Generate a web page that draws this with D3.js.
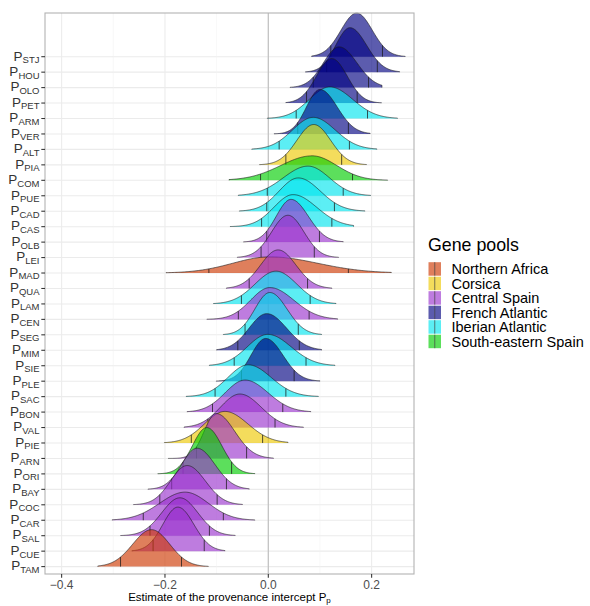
<!DOCTYPE html>
<html><head><meta charset="utf-8">
<script src="https://cdn.jsdelivr.net/npm/d3@7"></script>
<style>
body{margin:0;background:#fff;}
text{font-family:"Liberation Sans",Arial,Helvetica,sans-serif;}
</style>
</head><body>
<svg id="chart" width="590" height="606"></svg>
<script>
// ---------------- data ----------------
const provenances = ["STJ","HOU","OLO","PET","ARM","VER","ALT","PIA","COM","PUE","CAD","CAS","OLB","LEI","MAD","QUA","LAM","CEN","SEG","MIM","SIE","PLE","SAC","BON","VAL","PIE","ARN","ORI","BAY","COC","CAR","SAL","CUE","TAM"];
const genePool = ["French Atlantic","French Atlantic","French Atlantic","French Atlantic","Iberian Atlantic","French Atlantic","Iberian Atlantic","Corsica","South-eastern Spain","Iberian Atlantic","Iberian Atlantic","Iberian Atlantic","Central Spain","Central Spain","Northern Africa","Central Spain","Iberian Atlantic","Central Spain","Iberian Atlantic","French Atlantic","Iberian Atlantic","French Atlantic","Iberian Atlantic","Central Spain","Central Spain","Corsica","Central Spain","South-eastern Spain","Central Spain","Central Spain","Central Spain","Central Spain","Central Spain","Northern Africa"];
// posterior mode, 5% and 95% quantiles, and sample range per provenance
const modes = [0.171,0.158,0.137,0.123,0.119,0.100,0.087,0.088,0.085,0.077,0.058,0.048,0.044,0.038,0.003,0.019,0.015,0.003,0.003,-0.003,-0.001,-0.005,-0.039,-0.045,-0.055,-0.084,-0.101,-0.119,-0.138,-0.157,-0.161,-0.171,-0.175,-0.226];
const q05 = [0.121,0.113,0.087,0.074,0.054,0.057,0.021,0.034,-0.015,-0.002,-0.003,-0.013,-0.003,-0.014,-0.115,-0.037,-0.052,-0.058,-0.045,-0.059,-0.066,-0.052,-0.103,-0.108,-0.117,-0.149,-0.139,-0.165,-0.187,-0.210,-0.242,-0.229,-0.223,-0.286];
const q95 = [0.221,0.211,0.194,0.172,0.192,0.155,0.157,0.142,0.163,0.145,0.128,0.123,0.099,0.089,0.155,0.076,0.081,0.079,0.058,0.060,0.073,0.050,0.034,0.028,0.013,-0.011,-0.042,-0.071,-0.081,-0.099,-0.087,-0.114,-0.124,-0.168];
const minVals = [0.084,0.072,0.042,0.034,-0.002,0.011,-0.032,-0.017,-0.076,-0.058,-0.056,-0.074,-0.048,-0.060,-0.198,-0.081,-0.106,-0.119,-0.087,-0.100,-0.114,-0.101,-0.159,-0.157,-0.163,-0.201,-0.194,-0.214,-0.233,-0.261,-0.302,-0.286,-0.264,-0.330];
const maxVals = [0.265,0.254,0.220,0.219,0.250,0.197,0.210,0.190,0.231,0.198,0.187,0.165,0.145,0.136,0.238,0.123,0.131,0.134,0.103,0.103,0.129,0.100,0.097,0.082,0.068,0.038,0.010,-0.026,-0.037,-0.050,-0.026,-0.064,-0.084,-0.116];

const poolNames = ["Northern Africa","Corsica","Central Spain","French Atlantic","Iberian Atlantic","South-eastern Spain"];
const poolColors = ["#CD3700","#EEC900","#9A32CD","#000080","#00E5EE","#00CD00"];
const xTicks = [-0.4,-0.2,0.0,0.2];
const xMinorTicks = [-0.3,-0.1,0.1];
const xDomain = [-0.4322, 0.282];

// ---------------- layout ----------------
const svg = d3.select("#chart");
const P = {left:45, right:414, top:13, bottom:574};
const x = d3.scaleLinear().domain(xDomain).range([P.left, P.right]);
const y = d3.scalePoint().domain(provenances).range([56.7, 566.6]);
const step = y.step();
const color = d3.scaleOrdinal().domain(poolNames).range(poolColors);
const fillAlpha = 0.64;
const ridgeScale = 3;

// grid
const g = svg.append("g");
g.selectAll(".hg").data(provenances).enter().append("line")
  .attr("x1",P.left).attr("x2",P.right).attr("y1",d=>y(d)).attr("y2",d=>y(d))
  .attr("stroke","#EBEBEB").attr("stroke-width",1.07);
g.selectAll(".vmin").data(xMinorTicks).enter().append("line")
  .attr("x1",d=>x(d)).attr("x2",d=>x(d)).attr("y1",P.top).attr("y2",P.bottom)
  .attr("stroke","#F2F2F2").attr("stroke-width",0.55);
g.selectAll(".vmaj").data(xTicks).enter().append("line")
  .attr("x1",d=>x(d)).attr("x2",d=>x(d)).attr("y1",P.top).attr("y2",P.bottom)
  .attr("stroke","#EBEBEB").attr("stroke-width",1.07);
// reference line at zero
g.append("line").attr("x1",x(0)).attr("x2",x(0)).attr("y1",P.top).attr("y2",P.bottom)
  .attr("stroke","#BDBDBD").attr("stroke-width",1.1);

// ---------------- densities ----------------
const z = 1.6449;
function makeDens(i){
  const m = modes[i], sL = (m - q05[i]) / z, sR = (q95[i] - m) / z;
  const A = 2 / (Math.sqrt(2*Math.PI) * (sL + sR));
  return v => { const s = v < m ? sL : sR; return A * Math.exp(-0.5*((v-m)/s)**2); };
}
const dens = provenances.map((p,i)=>makeDens(i));
const peak = provenances.map((p,i)=>dens[i](modes[i]));
const maxPeak = d3.max(peak);
const hScale = ridgeScale * step / maxPeak;

const ridges = svg.append("g");
provenances.forEach((p,i)=>{
  const base = y(p);
  const n = 160;
  const pts = d3.range(n+1).map(k=>{
    const v = minVals[i] + (maxVals[i]-minVals[i])*k/n;
    return [v, dens[i](v)];
  });
  const area = d3.area().x(d=>x(d[0])).y0(base).y1(d=>base - d[1]*hScale).curve(d3.curveLinear);
  const line = d3.line().x(d=>x(d[0])).y(d=>base - d[1]*hScale);
  const gr = ridges.append("g");
  gr.append("path").attr("d", area(pts))
    .attr("fill", color(genePool[i])).attr("fill-opacity", fillAlpha).attr("stroke","none");
  [q05[i], q95[i]].forEach(q=>{
    gr.append("line").attr("x1",x(q)).attr("x2",x(q)).attr("y1",base)
      .attr("y2", base - dens[i](q)*hScale)
      .attr("stroke","#1a1a1a").attr("stroke-width",0.75);
  });
  gr.append("path").attr("d", line([[minVals[i],0]].concat(pts).concat([[maxVals[i],0]])))
    .attr("fill","none").attr("stroke","#1a1a1a").attr("stroke-width",0.6);
});

// panel border
svg.append("rect").attr("x",P.left).attr("y",P.top).attr("width",P.right-P.left).attr("height",P.bottom-P.top)
  .attr("fill","none").attr("stroke","#B3B3B3").attr("stroke-width",1.1);

// ---------------- axes ----------------
const ax = svg.append("g");
ax.selectAll(".yt").data(provenances).enter().append("line")
  .attr("x1",P.left-3.7).attr("x2",P.left).attr("y1",d=>y(d)).attr("y2",d=>y(d))
  .attr("stroke","#333").attr("stroke-width",1.07);
const yl = ax.selectAll(".yl").data(provenances).enter().append("text")
  .attr("x",P.left-5.5).attr("y",d=>y(d)+3.8).attr("text-anchor","end")
  .attr("fill","#333").attr("font-size","13.5px");
yl.append("tspan").text("P");
yl.append("tspan").attr("dy",2.6).attr("font-size","9.5px").text(d=>d);

ax.selectAll(".xt").data(xTicks).enter().append("line")
  .attr("x1",d=>x(d)).attr("x2",d=>x(d)).attr("y1",P.bottom).attr("y2",P.bottom+3.7)
  .attr("stroke","#333").attr("stroke-width",1.07);
ax.selectAll(".xl").data(xTicks).enter().append("text")
  .attr("x",d=>x(d)).attr("y",P.bottom+15).attr("text-anchor","middle")
  .attr("fill","#4D4D4D").attr("font-size","12px")
  .text(d=>d3.format(".1f")(d));
const xt = ax.append("text").attr("x",(P.left+P.right)/2).attr("y",601)
  .attr("text-anchor","middle").attr("fill","#000").attr("font-size","11.5px");
xt.append("tspan").text("Estimate of the provenance intercept P");
xt.append("tspan").attr("dy",2).attr("font-size","8px").text("p");

// ---------------- legend ----------------
const lg = svg.append("g").attr("transform","translate(428,0)");
lg.append("text").attr("x",0).attr("y",251).attr("font-size","17.8px").attr("fill","#000").text("Gene pools");
const keyH = 14.5, keyW = 13.5, key0 = 261.7;
poolNames.forEach((nm,j)=>{
  const ky = key0 + j*keyH;
  lg.append("rect").attr("x",0).attr("y",ky).attr("width",keyW).attr("height",keyH)
    .attr("fill","#fff");
  lg.append("rect").attr("x",0.5).attr("y",ky+0.5).attr("width",keyW-1).attr("height",keyH-1)
    .attr("fill",color(nm)).attr("fill-opacity",fillAlpha);
  lg.append("line").attr("x1",keyW/2).attr("x2",keyW/2).attr("y1",ky+0.5).attr("y2",ky+keyH-0.5)
    .attr("stroke","#444").attr("stroke-width",0.7);
  lg.append("text").attr("x",23.5).attr("y",ky+keyH/2+5.1).attr("font-size","14.5px").attr("fill","#000").text(nm);
});
</script>
</body></html>
